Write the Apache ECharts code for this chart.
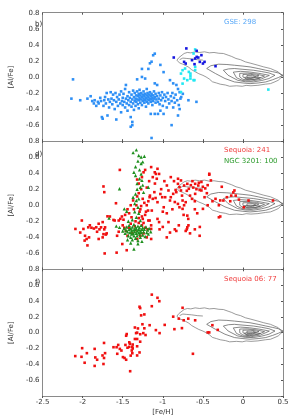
<!DOCTYPE html>
<html><head><meta charset="utf-8">
<script src="https://cdn.jsdelivr.net/npm/echarts@6/dist/echarts.min.js"></script>
<style>html,body{margin:0;padding:0;background:#fff}#c{width:293px;height:417px}</style>
</head><body><div id="c"></div>
<script>
// ---------------- data ----------------
const xTicks = [-2.5, -2, -1.5, -1, -0.5, 0, 0.5];
const yTicks = [-0.8, -0.6, -0.4, -0.2, 0, 0.2, 0.4, 0.6, 0.8];
const panelTags = ['b)', 'd)', 'f)'];

const gse = [[-2.14,-0.27],[-2.12,-0.03],[-2.03,-0.29],[-1.94,-0.27],[-1.90,-0.24],[-1.88,-0.30],[-1.86,-0.33],[-1.85,-0.29],[-1.83,-0.36],[-1.81,-0.31],[-1.80,-0.33],[-1.78,-0.26],[-1.77,-0.30],[-1.76,-0.50],[-1.75,-0.52],[-1.74,-0.36],[-1.73,-0.29],[-1.72,-0.25],[-1.71,-0.33],[-1.70,-0.20],[-1.69,-0.48],[-1.68,-0.28],[-1.67,-0.38],[-1.66,-0.31],[-1.65,-0.19],[-1.64,-0.27],[-1.63,-0.34],[-1.62,-0.22],[-1.61,-0.29],[-1.60,-0.40],[-1.59,-0.20],[-1.58,-0.53],[-1.58,-0.31],[-1.57,-0.25],[-1.56,-0.36],[-1.55,-0.28],[-1.54,-0.22],[-1.53,-0.33],[-1.52,-0.18],[-1.52,-0.44],[-1.51,-0.30],[-1.50,-0.26],[-1.50,-0.35],[-1.49,-0.21],[-1.48,-0.31],[-1.47,-0.15],[-1.47,-0.38],[-1.46,-0.10],[-1.46,-0.27],[-1.45,-0.33],[-1.44,-0.24],[-1.44,-0.42],[-1.43,-0.29],[-1.42,-0.19],[-1.42,-0.35],[-1.41,-0.26],[-1.40,-0.50],[-1.40,-0.31],[-1.40,-0.62],[-1.39,-0.22],[-1.39,-0.37],[-1.38,-0.56],[-1.38,-0.28],[-1.38,-0.60],[-1.37,-0.17],[-1.37,-0.33],[-1.36,-0.25],[-1.36,-0.41],[-1.35,-0.30],[-1.35,-0.20],[-1.34,-0.27],[-1.34,-0.36],[-1.33,-0.23],[-1.33,-0.31],[-1.32,-0.03],[-1.32,-0.18],[-1.32,-0.28],[-1.31,-0.34],[-1.31,-0.24],[-1.30,-0.21],[-1.30,-0.29],[-1.30,-0.39],[-1.29,-0.26],[-1.29,-0.16],[-1.28,-0.32],[-1.28,-0.23],[-1.27,-0.28],[-1.27,-0.20],[-1.26,0.10],[-1.26,0.00],[-1.26,-0.25],[-1.26,-0.35],[-1.25,-0.30],[-1.25,-0.22],[-1.24,-0.27],[-1.24,-0.18],[-1.23,-0.32],[-1.23,-0.24],[-1.22,-0.02],[-1.22,-0.29],[-1.22,-0.21],[-1.21,-0.26],[-1.21,-0.37],[-1.20,-0.23],[-1.20,-0.31],[-1.20,-0.15],[-1.19,-0.28],[-1.19,-0.20],[-1.18,0.10],[-1.18,-0.25],[-1.18,-0.33],[-1.17,-0.22],[-1.17,-0.29],[-1.16,0.17],[-1.16,-0.27],[-1.16,-0.19],[-1.15,-0.24],[-1.15,-0.31],[-1.15,-0.46],[-1.14,-0.76],[-1.14,0.19],[-1.14,-0.21],[-1.14,-0.28],[-1.13,-0.26],[-1.13,-0.35],[-1.12,0.27],[-1.12,-0.23],[-1.12,-0.30],[-1.11,-0.18],[-1.11,-0.27],[-1.10,0.29],[-1.10,-0.46],[-1.10,-0.08],[-1.10,-0.25],[-1.09,-0.32],[-1.09,-0.21],[-1.08,-0.28],[-1.07,-0.10],[-1.07,-0.24],[-1.06,-0.31],[-1.06,-0.46],[-1.05,-0.20],[-1.05,-0.27],[-1.04,-0.34],[-1.03,0.15],[-1.03,-0.42],[-1.03,-0.23],[-1.02,-0.29],[-1.01,-0.19],[-1.00,-0.26],[-1.00,-0.36],[-0.99,0.06],[-0.99,-0.46],[-0.98,-0.22],[-0.97,-0.30],[-0.96,-0.25],[-0.95,-0.38],[-0.94,-0.20],[-0.93,-0.28],[-0.92,-0.33],[-0.91,-0.04],[-0.90,-0.24],[-0.89,-0.60],[-0.89,-0.30],[-0.88,-0.20],[-0.87,-0.08],[-0.87,-0.38],[-0.86,-0.26],[-0.85,-0.32],[-0.84,-0.22],[-0.83,-0.10],[-0.82,-0.29],[-0.81,-0.15],[-0.81,-0.48],[-0.80,-0.35],[-0.79,-0.19],[-0.79,-0.40],[-0.78,-0.27],[-0.77,-0.25],[-0.75,-0.21],[-0.68,-0.29],[-0.58,-0.31]];

const gseCyan = [[-0.596,0.342],[-0.616,0.292],[-0.773,0.042],[-0.753,0.084],[-0.722,0.105],[-0.675,0.063],[-0.655,0.042],[-0.655,-0.02],[-0.616,-0.04],[-0.694,-0.04],[-0.596,0.084],[-0.596,0.125],[-0.734,-0.02],[-0.655,0.012],[-0.605,-0.04],[-0.753,-0.083],[-0.773,-0.188],[0.317,-0.157]];

const gseDark = [[-0.706,0.355],[-0.577,0.325],[-0.518,0.271],[-0.596,0.23],[-0.577,0.25],[-0.557,0.242],[-0.635,0.209],[-0.734,0.188],[-0.714,0.167],[-0.538,0.188],[-0.479,0.188],[-0.499,0.167],[-0.863,0.242],[-0.604,0.159],[-0.342,0.134]];

const sequoia = [[-2.09,-0.295],[-2.01,-0.19],[-2.03,-0.34],[-1.99,-0.295],[-1.97,-0.38],[-1.95,-0.42],[-1.975,-0.44],[-1.94,-0.50],[-1.92,-0.40],[-1.93,-0.275],[-1.91,-0.25],[-1.89,-0.28],[-1.86,-0.29],[-1.83,-0.275],[-1.82,-0.33],[-1.80,-0.42],[-1.79,-0.30],[-1.77,-0.275],[-1.75,-0.21],[-1.73,-0.30],[-1.72,-0.275],[-1.71,-0.365],[-1.70,-0.35],[-1.74,-0.36],[-1.75,-0.40],[-1.80,-0.23],[-1.74,0.234],[-1.73,0.163],[-1.725,-0.60],[-1.576,-0.59],[-1.584,0.025],[-1.69,-0.138],[-1.66,-0.14],[-1.615,-0.183],[-1.60,-0.19],[-1.536,0.44],[-1.55,-0.19],[-1.53,-0.17],[-1.51,-0.14],[-1.49,-0.18],[-1.47,-0.12],[-1.55,-0.33],[-1.45,-0.56],[-1.505,-0.483],[-1.57,-0.38],
[-1.40,0.0],[-1.37,0.06],[-1.32,0.32],[-1.30,0.27],[-1.26,0.35],[-1.24,0.41],[-1.22,0.44],[-1.27,0.20],[-1.25,0.08],[-1.32,0.11],[-1.28,-0.05],[-1.23,0.03],[-1.26,-0.14],[-1.25,-0.17],[-1.21,-0.08],[-1.18,-0.19],[-1.19,-0.30],[-1.145,-0.25],[-1.137,-0.066],[-1.125,0.35],[-1.10,0.41],[-1.105,0.163],[-1.09,0.09],[-1.145,-0.42],[-1.42,-0.10],[-1.39,-0.15],[-1.36,-0.05],[-1.34,-0.20],[-1.30,-0.16],[-1.29,-0.08],[-1.33,0.00],[-1.27,-0.01],[-1.24,-0.22],[-1.22,-0.12],[-1.20,0.00],[-1.18,0.05],[-1.42,-0.28],[-1.40,-0.23],[-1.35,-0.26],[-1.30,-0.22],[-1.26,-0.25],[-1.22,-0.28],[-1.48,-0.28],[-1.44,-0.38],[-1.38,-0.35],[-1.32,-0.42],[-1.28,-0.38],[-1.24,-0.35],[-1.20,-0.40],[-1.46,-0.32],[-1.34,-0.31],[-1.16,0.12],[-1.17,0.30],[-1.20,0.22],[-1.30,0.15],[-1.44,-0.05],[-1.50,-0.25],
[-1.145,0.475],[-1.066,0.454],[-1.046,0.39],[-1.086,0.39],[-1.075,0.33],[-1.098,0.27],[-1.164,0.10],[-1.125,0.08],[-1.066,0.038],[-1.007,0.10],[-0.988,-0.025],[-0.949,0.246],[-0.929,0.184],[-0.97,0.10],[-0.91,0.059],[-0.87,0.142],[-0.831,0.163],[-0.811,0.267],[-0.792,0.225],[-0.773,0.309],[-0.81,0.33],[-0.773,0.184],[-0.734,0.246],[-0.694,0.267],[-0.675,0.205],[-0.596,0.267],[-0.557,0.246],[-0.518,0.29],[-0.42,0.392],[-0.40,0.309],[-0.479,0.10],[-0.596,0.142],[-0.635,0.08],[-0.714,0.038],[-0.753,0.059],[-0.811,0.017],[-0.792,-0.025],[-0.753,-0.045],[-0.734,0.0],[-1.184,-0.066],[-1.164,-0.19],[-1.145,-0.295],[-1.066,-0.17],[-1.046,-0.21],[-0.929,-0.21],[-0.91,-0.34],[-0.831,-0.32],[-0.85,-0.30],[-0.694,-0.129],[-0.682,-0.17],[-0.694,-0.275],[-0.70,-0.30],[-0.714,-0.32],[-0.68,-0.25],[-0.538,-0.27],[-0.499,-0.045],[-0.283,-0.14],[-0.342,0.08],[-0.283,0.06],[-0.244,0.059],[-0.146,0.12],[-0.106,0.184],[-0.12,0.16],[-0.158,0.05],[0.07,0.059],[0.375,0.059],
[-0.65,0.25],[-0.62,0.22],[-0.58,0.20],[-0.54,0.19],[-0.50,0.23],[-0.47,0.21],[-0.45,0.15],[-0.70,0.18],[-0.76,0.12],[-0.85,0.04],[-0.88,-0.05],[-0.95,-0.10],[-1.00,-0.08],[-1.02,0.20],[-1.03,0.14],[-0.98,0.30],[-0.90,0.35],[-0.86,0.30],[-0.63,0.30],[-0.55,0.28],[-0.60,-0.05],[-0.57,-0.10],[-0.38,0.05],[-0.30,0.00],[-0.20,0.10],[-0.09,0.12],[-0.05,0.07],[-0.60,0.05],[-0.66,0.12],[-0.44,0.25],[-0.84,0.19],[-0.90,0.10],[-1.04,-0.30],[-1.00,-0.27],[-0.95,-0.40],[-0.80,-0.25],[-0.66,-0.35],[-0.60,-0.30],[-0.74,-0.12],[-0.54,-0.38],[-0.42,0.38],[-0.264,0.23],[0.011,-0.025],[-0.30,-0.15],[-0.44,0.0],[-0.518,0.184]];

const ngc3201 = [[-1.37,0.655],[-1.33,0.69],[-1.30,0.62],[-1.27,0.60],[-1.25,0.54],[-1.27,0.52],[-1.31,0.55],[-1.23,0.61],[-1.36,0.41],[-1.34,0.37],[-1.27,0.39],[-1.29,0.33],[-1.26,0.31],[-1.32,0.27],[-1.28,0.225],[-1.25,0.25],[-1.34,0.14],[-1.37,0.10],[-1.33,0.06],[-1.35,0.02],[-1.31,-0.025],[-1.48,-0.045],[-1.45,-0.075],[-1.54,0.205],[-1.67,-0.16],[-1.58,-0.26],[-1.54,-0.275],[-1.36,-0.545],[-1.18,0.225],
[-1.50,-0.32],[-1.48,-0.29],[-1.47,-0.35],[-1.46,-0.31],[-1.45,-0.27],[-1.44,-0.33],[-1.43,-0.38],[-1.42,-0.30],[-1.42,-0.25],[-1.41,-0.34],[-1.40,-0.29],[-1.40,-0.40],[-1.39,-0.32],[-1.39,-0.36],[-1.38,-0.27],[-1.38,-0.43],[-1.37,-0.31],[-1.37,-0.35],[-1.36,-0.24],[-1.36,-0.38],[-1.35,-0.30],[-1.35,-0.33],[-1.34,-0.27],[-1.34,-0.41],[-1.33,-0.35],[-1.33,-0.29],[-1.32,-0.32],[-1.32,-0.38],[-1.31,-0.26],[-1.31,-0.44],[-1.30,-0.30],[-1.30,-0.34],[-1.29,-0.36],[-1.29,-0.28],[-1.28,-0.32],[-1.28,-0.40],[-1.27,-0.25],[-1.27,-0.34],[-1.26,-0.30],[-1.25,-0.37],[-1.25,-0.28],[-1.24,-0.33],[-1.23,-0.30],[-1.22,-0.39],[-1.21,-0.27],[-1.20,-0.34],[-1.19,-0.31],[-1.18,-0.36],[-1.17,-0.29],[-1.15,-0.33],[-1.43,-0.20],[-1.38,-0.18],[-1.33,-0.15],[-1.30,-0.10],[-1.28,-0.19],[-1.35,-0.08],[-1.32,0.20],[-1.29,0.44],[-1.34,0.48],[-1.31,-0.48],[-1.26,-0.45],[-1.40,-0.47],[-1.44,-0.43],[-1.24,0.16],[-1.30,0.08]];

const sequoia06 = [[-2.092,-0.296],[-2.006,-0.196],[-2.014,-0.305],[-1.947,-0.259],[-1.975,-0.38],[-1.85,-0.205],[-1.842,-0.313],[-1.85,-0.42],[-1.819,-0.342],[-1.752,-0.288],[-1.733,-0.32],[-1.72,-0.259],[-1.733,-0.13],[-1.74,-0.396],[-1.615,-0.184],[-1.576,-0.184],[-1.556,-0.155],[-1.568,-0.267],[-1.536,-0.205],[-1.516,-0.226],[-1.497,-0.309],[-1.477,-0.32],[-1.457,-0.342],[-1.457,-0.039],[-1.45,-0.018],[-1.466,-0.155],[-1.44,-0.19],[-1.418,-0.122],[-1.418,-0.18],[-1.41,-0.14],[-1.387,-0.226],[-1.38,-0.26],[-1.40,-0.29],[-1.38,-0.18],[-1.375,-0.15],[-1.375,-0.20],[-1.407,-0.487],[-1.348,-0.08],[-1.348,0.065],[-1.333,-0.006],[-1.32,0.0],[-1.31,0.053],[-1.32,-0.08],[-1.32,-0.172],[-1.32,-0.288],[-1.29,-0.25],[-1.282,-0.114],[-1.282,-0.02],[-1.29,0.327],[-1.282,0.31],[-1.27,0.218],[-1.254,0.106],[-1.243,-0.006],[-1.23,0.23],[-1.23,0.055],[-1.215,-0.03],[-1.164,0.094],[-1.137,0.48],[-1.137,0.334],[-1.086,0.032],[-1.066,0.44],[-1.043,0.397],[-1.04,-0.006],[-0.976,0.098],[-0.87,0.202],[-0.855,0.044],[-0.80,0.177],[-0.761,0.057],[-0.753,0.314],[-0.739,0.156],[-0.682,0.177],[-0.596,0.156],[-0.624,-0.267],[-0.44,0.003],[-0.42,0.003],[-0.381,0.094],[-0.314,0.035]];

// disk contours ([Fe/H], [Al/Fe])
const contourOuter = [[-0.823,0.209],[-0.80,0.24],[-0.78,0.255],[-0.734,0.292],[-0.694,0.305],[-0.65,0.30],[-0.596,0.313],[-0.54,0.305],[-0.479,0.313],[-0.42,0.30],[-0.361,0.305],[-0.30,0.295],[-0.244,0.292],[-0.185,0.271],[-0.14,0.255],[-0.087,0.23],[-0.03,0.215],[0.030,0.188],[0.10,0.17],[0.187,0.146],[0.26,0.125],[0.344,0.105],[0.40,0.08],[0.441,0.063],[0.493,0.009],[0.441,-0.041],[0.40,-0.06],[0.344,-0.083],[0.28,-0.09],[0.187,-0.104],[0.10,-0.11],[0.04,-0.105],[-0.009,-0.116],[-0.08,-0.11],[-0.165,-0.116],[-0.22,-0.10],[-0.283,-0.09],[-0.33,-0.075],[-0.381,-0.06],[-0.40,-0.045],[-0.42,-0.025],[-0.46,0.0],[-0.499,0.02],[-0.55,0.04],[-0.596,0.065],[-0.64,0.09],[-0.675,0.12],[-0.72,0.145],[-0.753,0.16],[-0.792,0.175],[-0.823,0.209]];
const contourLobe = [[-0.79,0.215],[-0.75,0.235],[-0.70,0.23],[-0.64,0.225],[-0.57,0.215],[-0.50,0.21]];
const contour2 = [[-0.452,0.105],[-0.40,0.14],[-0.303,0.159],[-0.20,0.155],[-0.106,0.146],[0.0,0.135],[0.089,0.125],[0.19,0.105],[0.285,0.084],[0.37,0.066],[0.441,0.05],[0.50,0.021],[0.441,-0.008],[0.37,-0.035],[0.285,-0.062],[0.19,-0.075],[0.089,-0.083],[0.0,-0.075],[-0.106,-0.062],[-0.224,-0.02],[-0.342,0.042],[-0.452,0.105]];
const contour3 = [[-0.244,0.084],[-0.18,0.10],[-0.106,0.105],[0.0,0.095],[0.129,0.084],[0.23,0.068],[0.324,0.05],[0.40,0.021],[0.324,-0.02],[0.23,-0.045],[0.129,-0.062],[0.03,-0.06],[-0.067,-0.041],[-0.185,0.021],[-0.244,0.084]];
const contour4 = [[-0.12,0.06],[-0.03,0.07],[0.08,0.062],[0.20,0.045],[0.33,0.02],[0.22,-0.03],[0.10,-0.052],[0.0,-0.045],[-0.08,-0.01],[-0.12,0.06]];
const contour5 = [[-0.04,0.045],[0.06,0.048],[0.17,0.035],[0.27,0.012],[0.18,-0.025],[0.08,-0.038],[0.0,-0.03],[-0.04,0.0],[-0.04,0.045]];
const contour6 = [[0.0,0.03],[0.09,0.034],[0.2,0.015],[0.12,-0.018],[0.04,-0.022],[0.0,0.0],[0.0,0.03]];
const contour7 = [[0.05,0.018],[0.12,0.02],[0.16,0.005],[0.10,-0.012],[0.05,-0.008],[0.05,0.018]];
const contour8 = [[0.02,-0.005],[0.10,0.0],[0.22,-0.01],[0.14,-0.03],[0.05,-0.03],[0.02,-0.005]];
const contours = [contourOuter, contourLobe, contour2, contour3, contour4, contour5, contour6, contour7, contour8];

// ---------------- chart ----------------
const chart = echarts.init(document.getElementById('c'), null, {renderer: 'canvas'});
const FONT = 'DejaVu Sans';
const axisGray = '#8a8a8a';
const tops = [12.7, 141, 269.3];
const H = 128.5;
const grids = tops.map(t => ({left: 28, right: 10, top: t, height: H}));

const xAxes = [], yAxes = [], series = [];
tops.forEach((t, g) => {
  const last = g === 2;
  xAxes.push({type:'value', gridIndex:g, min:-2.5, max:0.5, interval:0.5, position:'bottom',
    axisLine:{show:true, onZero:false, lineStyle:{color:axisGray, width:1}},
    axisTick:{show:true, inside:!last, length:2, lineStyle:{color:'#555'}},
    axisLabel:{show:last, margin:3, fontSize:7, fontFamily:FONT, color:'#333',
      formatter: v => xTicks.includes(v) ? String(v) : ''},
    splitLine:{show:false},
    name: last ? '[Fe/H]' : '', nameLocation:'middle', nameGap:13,
    nameTextStyle:{fontSize:7, fontFamily:FONT, color:'#333'}});
  xAxes.push({type:'value', gridIndex:g, min:-2.5, max:0.5, interval:0.5, position:'top',
    axisLine:{show:true, onZero:false, lineStyle:{color:axisGray, width:1}},
    axisTick:{show:true, inside:true, length:2, lineStyle:{color:'#555'}},
    axisLabel:{show:false}, splitLine:{show:false}});
  yAxes.push({type:'value', gridIndex:g, min:-0.8, max:0.8, interval:0.2, position:'left',
    axisLine:{show:true, onZero:false, lineStyle:{color:axisGray, width:1}},
    axisTick:{show:false},
    axisLabel:{show:true, margin:3, fontSize:7, fontFamily:FONT, color:'#333',
      formatter: v => (v < -0.79) ? '' : v.toFixed(1)},
    splitLine:{show:false},
    name:'[Al/Fe]', nameLocation:'middle', nameGap:20, nameRotate:90,
    nameTextStyle:{fontSize:7, fontFamily:FONT, color:'#333'}});
  yAxes.push({type:'value', gridIndex:g, min:-0.8, max:0.8, interval:0.2, position:'right',
    axisLine:{show:true, onZero:false, lineStyle:{color:axisGray, width:1}},
    axisTick:{show:true, inside:true, length:2, lineStyle:{color:'#555'}},
    axisLabel:{show:false}, splitLine:{show:false}});

  contours.forEach((c, i) => series.push({type:'line', xAxisIndex:2*g, yAxisIndex:2*g, data:c,
    showSymbol:false, symbol:'none', smooth:false, z:2, silent:true,
    lineStyle:{color: i < 2 ? '#707070' : '#555', width:0.7}}));
});

function scat(data, g, color, symbol, size, z) {
  return {type:'scatter', xAxisIndex:2*g, yAxisIndex:2*g, data, symbol, symbolSize:size,
    itemStyle:{color, opacity:1}, z: z || 3, silent:true};
}
series.push(scat(gse, 0, '#2e8ff5', 'rect', 2.6));
series.push(scat(gseCyan, 0, '#22e8f2', 'rect', 2.6, 4));
series.push(scat(gseDark, 0, '#1515e0', 'rect', 2.6, 5));
series.push(scat(sequoia, 1, '#f01010', 'rect', 2.6));
series.push(scat(ngc3201, 1, '#1d8f1d', 'triangle', 3.4, 4));
series.push(scat(sequoia06, 2, '#f01010', 'rect', 2.6));

const txt = (x, y, text, color) => ({type:'text', left:x, top:y, silent:true,
  style:{text, fill:color, font:'7px "DejaVu Sans"', textVerticalAlign:'middle'}});
const graphics = [
  txt(224, 18.5, 'GSE: 298', '#5aa9f8'),
  txt(224, 147, 'Sequoia: 241', '#f03c3c'),
  txt(224, 157.2, 'NGC 3201: 100', '#2a9a2a'),
  txt(224, 275.8, 'Sequoia 06: 77', '#f03c3c'),
];
panelTags.forEach((t, i) => graphics.push(txt(35, [20.5, 150.5, 278.8][i], t, '#222')));

chart.setOption({animation:false, backgroundColor:'#fff', grid:grids, xAxis:xAxes, yAxis:yAxes,
  series, graphic:graphics});
</script></body></html>
